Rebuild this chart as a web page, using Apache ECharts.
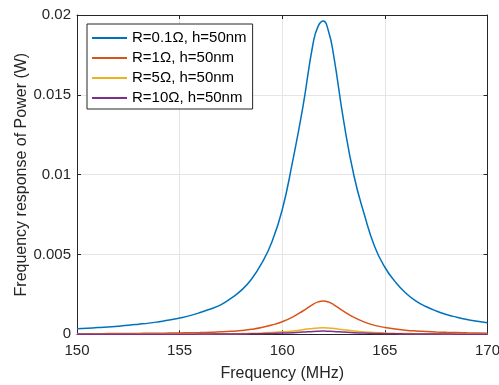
<!DOCTYPE html>
<html>
<head>
<meta charset="utf-8">
<script src="https://cdn.jsdelivr.net/npm/echarts@6/dist/echarts.min.js"></script>
<style>html,body{margin:0;padding:0;background:#fff;}#c{width:499px;height:385px;}</style>
</head>
<body>
<div id="c"></div>
<script>
// Frequency samples (MHz)
var freq = [150,150.5,151,151.5,152,152.5,153,153.5,154,154.5,155,155.5,156,156.5,157,157.5,158,158.5,159,159.5,160,160.5,161,161.5,161.75,162,162.25,162.5,163,163.5,164,164.5,165,165.5,166,166.5,167,167.5,168,168.5,169,169.5,170];
// Power (W)
var pR01 = [0.35e-3,0.385e-3,0.42e-3,0.46e-3,0.51e-3,0.565e-3,0.63e-3,0.70e-3,0.79e-3,0.89e-3,1.02e-3,1.17e-3,1.36e-3,1.58e-3,1.84e-3,2.25e-3,2.75e-3,3.45e-3,4.45e-3,5.8e-3,7.8e-3,10.8e-3,14.2e-3,18.2e-3,19.3e-3,19.62e-3,19.0e-3,17.5e-3,13.3e-3,9.9e-3,7.5e-3,5.5e-3,4.2e-3,3.3e-3,2.6e-3,2.1e-3,1.74e-3,1.46e-3,1.24e-3,1.07e-3,0.93e-3,0.82e-3,0.72e-3];
var pR1  = [0.034e-3,0.037e-3,0.040e-3,0.043e-3,0.047e-3,0.051e-3,0.056e-3,0.062e-3,0.068e-3,0.076e-3,0.085e-3,0.097e-3,0.11e-3,0.13e-3,0.155e-3,0.19e-3,0.24e-3,0.31e-3,0.42e-3,0.58e-3,0.79e-3,1.08e-3,1.46e-3,1.88e-3,2.03e-3,2.085e-3,2.02e-3,1.86e-3,1.44e-3,1.06e-3,0.77e-3,0.56e-3,0.43e-3,0.33e-3,0.26e-3,0.21e-3,0.175e-3,0.145e-3,0.122e-3,0.105e-3,0.09e-3,0.08e-3,0.07e-3];
var pR5  = [0.007e-3,0.0075e-3,0.008e-3,0.0085e-3,0.009e-3,0.01e-3,0.011e-3,0.012e-3,0.013e-3,0.015e-3,0.017e-3,0.019e-3,0.022e-3,0.026e-3,0.031e-3,0.038e-3,0.047e-3,0.061e-3,0.083e-3,0.115e-3,0.155e-3,0.21e-3,0.287e-3,0.37e-3,0.40e-3,0.41e-3,0.397e-3,0.366e-3,0.284e-3,0.21e-3,0.152e-3,0.11e-3,0.084e-3,0.065e-3,0.051e-3,0.042e-3,0.034e-3,0.029e-3,0.024e-3,0.021e-3,0.018e-3,0.016e-3,0.014e-3];
var pR10 = [0.0035e-3,0.0037e-3,0.004e-3,0.0042e-3,0.0045e-3,0.005e-3,0.0055e-3,0.006e-3,0.0065e-3,0.0074e-3,0.0085e-3,0.0094e-3,0.011e-3,0.013e-3,0.0155e-3,0.019e-3,0.023e-3,0.03e-3,0.041e-3,0.057e-3,0.076e-3,0.103e-3,0.14e-3,0.182e-3,0.195e-3,0.2e-3,0.193e-3,0.18e-3,0.14e-3,0.103e-3,0.075e-3,0.054e-3,0.041e-3,0.032e-3,0.025e-3,0.021e-3,0.017e-3,0.014e-3,0.012e-3,0.0103e-3,0.009e-3,0.008e-3,0.007e-3];
var seriesNames = ['R=0.1\u03A9, h=50nm','R=1\u03A9, h=50nm','R=5\u03A9, h=50nm','R=10\u03A9, h=50nm'];
var xTicks = [150,155,160,165,170];
var yTicks = [0,0.005,0.01,0.015,0.02];

var colors = ['#0072BD','#D95319','#EDB120','#7E2F8E'];
var allData = [pR01,pR1,pR5,pR10];
function pairs(v){ return freq.map(function(f,i){ return [f, v[i]]; }); }

var FONT = 'Liberation Sans, Arial, sans-serif';
var axisCol = '#262626';
var chart = echarts.init(document.getElementById('c'), null, {renderer:'canvas'});
var tickCommon = {show:true, inside:true, length:4, lineStyle:{color:axisCol, width:1}};
var option = {
  animation:false,
  backgroundColor:'#ffffff',
  grid:{left:77, right:11.5, top:15, bottom:50.7, containLabel:false, outerBoundsMode:'none'},
  xAxis:[{
    type:'value', min:xTicks[0], max:xTicks[xTicks.length-1], interval:5,
    position:'bottom',
    name:'Frequency (MHz)', nameLocation:'middle', nameGap:31, nameMoveOverlap:false,
    nameTextStyle:{fontFamily:FONT, fontSize:16, color:axisCol},
    axisLine:{show:true, onZero:false, lineStyle:{color:axisCol, width:1}},
    axisTick:tickCommon,
    axisLabel:{fontFamily:FONT, fontSize:15, color:axisCol, margin:9},
    splitLine:{show:true, lineStyle:{color:'#e5e5e5', width:1}}
  },{
    type:'value', min:xTicks[0], max:xTicks[xTicks.length-1], interval:5,
    position:'top',
    axisLine:{show:true, onZero:false, lineStyle:{color:axisCol, width:1}},
    axisTick:tickCommon, axisLabel:{show:false}, splitLine:{show:false}
  }],
  yAxis:[{
    type:'value', min:yTicks[0], max:yTicks[yTicks.length-1], interval:0.005,
    position:'left',
    name:'Frequency response of Power (W)', nameLocation:'middle', nameGap:47, nameMoveOverlap:false,
    nameTextStyle:{fontFamily:FONT, fontSize:16, color:axisCol},
    axisLine:{show:true, onZero:false, lineStyle:{color:axisCol, width:1}},
    axisTick:tickCommon,
    axisLabel:{fontFamily:FONT, fontSize:15, color:axisCol, margin:6},
    splitLine:{show:true, lineStyle:{color:'#e5e5e5', width:1}}
  },{
    type:'value', min:yTicks[0], max:yTicks[yTicks.length-1], interval:0.005,
    position:'right',
    axisLine:{show:true, onZero:false, lineStyle:{color:axisCol, width:1}},
    axisTick:tickCommon, axisLabel:{show:false}, splitLine:{show:false}
  }],
  legend:{
    orient:'vertical', left:87, top:24,
    data:seriesNames,
    backgroundColor:'#ffffff', borderColor:axisCol, borderWidth:1,
    padding:[4,6,1,4], itemGap:0, itemWidth:35, itemHeight:10,
    textStyle:{fontFamily:FONT, fontSize:15, color:'#000', lineHeight:20, height:20},
    itemStyle:{opacity:0}
  },
  series: allData.map(function(v,i){
    return {
      name:seriesNames[i], type:'line', data:pairs(v), xAxisIndex:0, yAxisIndex:0,
      symbol:'none', showSymbol:false, smooth:0.5,
      lineStyle:{color:colors[i], width:1.5}, itemStyle:{color:colors[i]},
      z:2+i
    };
  })
};
chart.setOption(option);
</script>
</body>
</html>
